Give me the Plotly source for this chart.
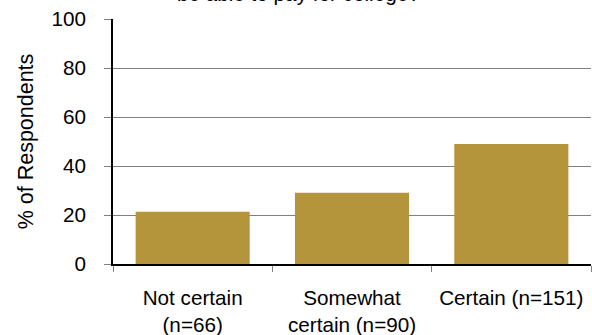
import plotly.graph_objects as go

# Survey results: share of respondents by certainty about paying for college
categories = ["Not certain<br>(n=66)", "Somewhat<br>certain (n=90)", "Certain (n=151)"]
percent_respondents = [21.3, 29.1, 49.0]
y_ticks = [0, 20, 40, 60, 80, 100]

FONT = "Arial, Liberation Sans, sans-serif"
FONT_SIZE = 20.7
BAR_COLOR = "#B5953B"

fig = go.Figure(
    go.Bar(
        x=categories,
        y=percent_respondents,
        marker=dict(color=BAR_COLOR, line=dict(width=0)),
        hoverinfo="x+y",
    )
)

fig.update_layout(
    width=592,
    height=335,
    margin=dict(l=113, r=1, t=19, b=71),
    paper_bgcolor="white",
    plot_bgcolor="white",
    bargap=0.284,
    showlegend=False,
    font=dict(family=FONT, size=FONT_SIZE, color="#000000"),
    annotations=[
        dict(
            text="be able to pay for college?",
            xref="paper", yref="paper",
            x=(298 - 113) / 478, y=1,
            xanchor="center", yanchor="bottom",
            yshift=12,
            showarrow=False,
            font=dict(family=FONT, size=FONT_SIZE, color="#000000"),
        )
    ],
)

fig.update_xaxes(
    type="category",
    range=[-0.5, 2.5],
    automargin=False,
    showline=True,
    linecolor="#000000",
    linewidth=1.5,
    ticks="outside",
    tickson="boundaries",
    ticklen=6,
    tickcolor="#808080",
    showgrid=False,
    tickfont=dict(family=FONT, size=FONT_SIZE, color="#000000"),
    ticklabelstandoff=14,
)

fig.update_yaxes(
    range=[0, 100],
    tickvals=y_ticks,
    automargin=False,
    showline=True,
    linecolor="#000000",
    linewidth=1.5,
    ticks="outside",
    ticklen=7,
    tickcolor="#808080",
    showgrid=True,
    gridcolor="#808080",
    gridwidth=1,
    zeroline=False,
    tickfont=dict(family=FONT, size=FONT_SIZE, color="#000000"),
    ticklabelstandoff=14,
    title=dict(text="% of Respondents", font=dict(family=FONT, size=21.5, color="#000000"), standoff=12),
)

fig.write_html("out.html")
